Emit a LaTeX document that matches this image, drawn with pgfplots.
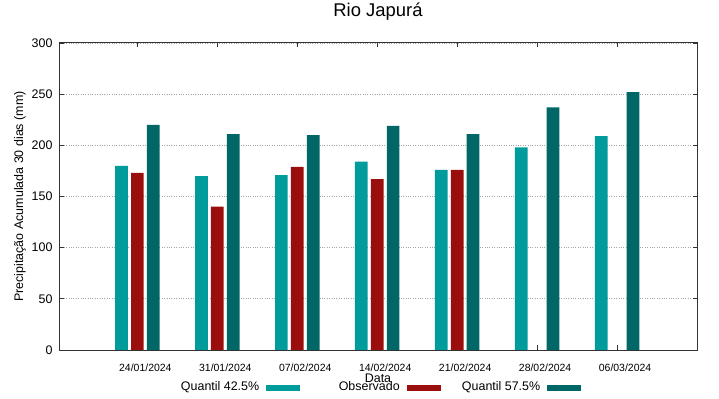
\documentclass[border=0pt]{standalone}
\usepackage{fontspec}
\setmainfont{Liberation Sans}
\usepackage{pgfplots}
\pgfplotsset{compat=1.18}
\definecolor{cA}{RGB}{0,155,155}
\definecolor{cB}{RGB}{155,14,14}
\definecolor{cC}{RGB}{0,103,102}
\pgfplotsset{swatch/.style={legend image code/.code={\fill[##1] (0bp,-5bp) rectangle (34bp,1bp);}}}
\begin{document}
\begin{tikzpicture}
\useasboundingbox (0,0) rectangle (719bp,399bp);
\begin{axis}[
  at={(59bp,49bp)}, anchor=south west,
  scale only axis, width=638bp, height=307bp,
  ybar=3.2bp, bar width=12.7bp,
  xmin=-0.98, xmax=7,
  ymin=0, ymax=300,
  ytick={0,50,...,300},
  xtick={0,...,6},
  xticklabels={24/01/2024,31/01/2024,07/02/2024,14/02/2024,21/02/2024,28/02/2024,06/03/2024},
  tick align=inside,
  major tick length=4.5bp,
  tick style={black!80, line width=0.8bp},
  axis line style={black!80, line width=1bp},
  ymajorgrids,
  major grid style={gray!70, dotted, line width=0.7bp},
  /pgf/number format/assume math mode=true,
  yticklabel style={font=\fontsize{12.5}{14}\selectfont, xshift=-3bp},
  xticklabel style={font=\fontsize{10.5}{12}\selectfont, anchor=base, yshift=-21.7bp, xshift=8bp},
  title={Rio Japurá},
  title style={at={(axis description cs:0.5,1)}, anchor=base, yshift=21bp, font=\fontsize{18.5}{20}\selectfont},
  xlabel={Data},
  xlabel style={at={(axis description cs:0.5,-0.0912)}, anchor=center, font=\fontsize{12.5}{14}\selectfont},
  ylabel={Precipitação Acumulada 30 dias (mm)},
  ylabel style={at={(axis description cs:-0.0611,0.5)}, anchor=center, font=\fontsize{12.5}{14}\selectfont},
  legend columns=3,
  legend plot pos=right,
  legend style={at={(axis description cs:0,0)}, anchor=west, xshift=120bp, yshift=-36.3bp,
    draw=none, fill=none, inner sep=0pt,
    font=\fontsize{12.5}{14}\selectfont,
    nodes={inner xsep=0pt, inner ysep=0pt, text height=9bp, text depth=0bp},
    /tikz/every odd column/.style={column sep=7bp},
    /tikz/every even column/.style={column sep=19.5bp}},
]
\addplot[fill=cA, draw=none, swatch] coordinates {(0,180) (1,170) (2,171) (3,184) (4,176) (5,198) (6,209)};
\addlegendentry{\makebox[80bp][r]{Quantil 42.5\%}}
\addplot[fill=cB, draw=none, swatch] coordinates {(0,173) (1,140) (2,179) (3,167) (4,176)};
\addlegendentry{\makebox[80bp][r]{Observado}}
\addplot[fill=cC, draw=none, swatch] coordinates {(0,220) (1,211) (2,210) (3,219) (4,211) (5,237) (6,252)};
\addlegendentry{\makebox[80bp][r]{Quantil 57.5\%}}
\end{axis}
\end{tikzpicture}
\end{document}
